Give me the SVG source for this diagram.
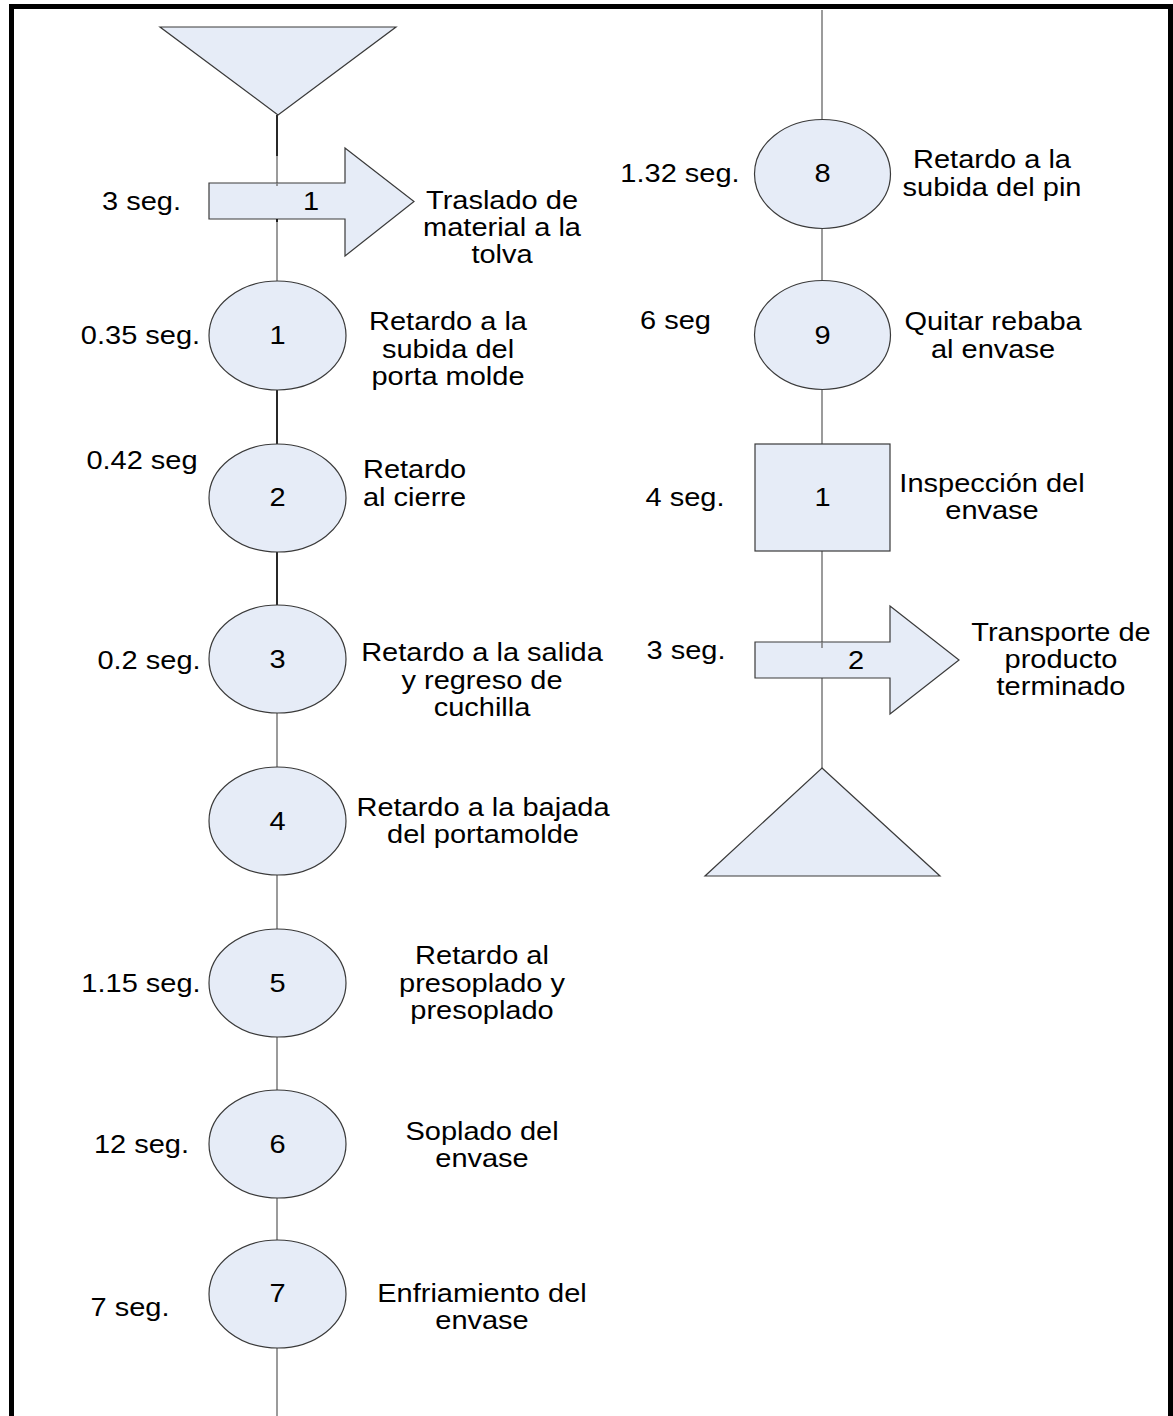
<svg xmlns="http://www.w3.org/2000/svg" width="1173" height="1416" viewBox="0 0 1173 1416">
<style>
.sh{fill:#E6ECF7;stroke:#3a3a3a;stroke-width:1.2}
.t{font-family:"Liberation Sans",Arial,sans-serif;font-size:25px;fill:#000}
.m{text-anchor:middle}
.c{stroke:#7a7a7a;stroke-width:1.5;fill:none}
.cd{stroke:#111;stroke-width:1.8;fill:none}
</style>
<rect width="1173" height="1416" fill="#fff"/>
<path d="M11.5,1416 V6.5 H1170.5 V1416" fill="none" stroke="#000" stroke-width="5"/>
<g id="connectors">
<line class="cd" x1="277" y1="115" x2="277" y2="156"/>
<line class="c" x1="277" y1="156" x2="277" y2="183"/>
<line class="c" x1="277" y1="219" x2="277" y2="281"/>
<line class="cd" x1="277" y1="390" x2="277" y2="444"/>
<line class="cd" x1="277" y1="552" x2="277" y2="605"/>
<line class="c" x1="277" y1="713" x2="277" y2="767"/>
<line class="c" x1="277" y1="875" x2="277" y2="929"/>
<line class="c" x1="277" y1="1037" x2="277" y2="1090"/>
<line class="c" x1="277" y1="1198" x2="277" y2="1240"/>
<line class="c" x1="277" y1="1348" x2="277" y2="1416"/>
<line class="c" x1="822" y1="10" x2="822" y2="119"/>
<line class="c" x1="822" y1="228" x2="822" y2="281"/>
<line class="c" x1="822" y1="389" x2="822" y2="444"/>
<line class="c" x1="822" y1="551" x2="822" y2="642"/>
<line class="c" x1="822" y1="678" x2="822" y2="768"/>
</g>
<g id="start">
<polygon class="sh" points="160,27 396,27 278,115"/>
</g>
<g id="transport1">
<path class="sh" d="M209,183 H345 V148 L414,201.5 L345,256 V219 H209 Z"/>
<line class="c" x1="277" y1="183" x2="277" y2="186"/>
<line class="cd" x1="277" y1="219" x2="277" y2="222"/>
<g transform="translate(311,0) scale(1.16,1)"><text class="t m" x="0" y="210">1</text></g>
<g transform="translate(502,0) scale(1.16,1)"><text class="t m" x="0" y="209">Traslado de</text><text class="t m" x="0" y="236">material a la</text><text class="t m" x="0" y="263">tolva</text></g>
<g transform="translate(141.5,0) scale(1.16,1)"><text class="t m" x="0" y="210">3 seg.</text></g>
</g>
<g id="op1">
<ellipse class="sh" cx="277.5" cy="335.5" rx="68.5" ry="54.5"/>
<g transform="translate(277.5,0) scale(1.16,1)"><text class="t m" x="0" y="344">1</text></g>
<g transform="translate(448,0) scale(1.16,1)"><text class="t m" x="0" y="330">Retardo a la</text><text class="t m" x="0" y="358">subida del</text><text class="t m" x="0" y="385">porta molde</text></g>
<g transform="translate(140.5,0) scale(1.16,1)"><text class="t m" x="0" y="344">0.35 seg.</text></g>
</g>
<g id="op2">
<ellipse class="sh" cx="277.5" cy="498" rx="68.5" ry="54"/>
<g transform="translate(277.5,0) scale(1.16,1)"><text class="t m" x="0" y="506">2</text></g>
<g transform="translate(363,0) scale(1.16,1)"><text class="t" x="0" y="478">Retardo</text><text class="t" x="0" y="506">al cierre</text></g>
<g transform="translate(142,0) scale(1.16,1)"><text class="t m" x="0" y="469">0.42 seg</text></g>
</g>
<g id="op3">
<ellipse class="sh" cx="277.5" cy="659" rx="68.5" ry="54"/>
<g transform="translate(277.5,0) scale(1.16,1)"><text class="t m" x="0" y="668">3</text></g>
<g transform="translate(482,0) scale(1.16,1)"><text class="t m" x="0" y="661">Retardo a la salida</text><text class="t m" x="0" y="689">y regreso de</text><text class="t m" x="0" y="716">cuchilla</text></g>
<g transform="translate(149,0) scale(1.16,1)"><text class="t m" x="0" y="669">0.2 seg.</text></g>
</g>
<g id="op4">
<ellipse class="sh" cx="277.5" cy="821" rx="68.5" ry="54"/>
<g transform="translate(277.5,0) scale(1.16,1)"><text class="t m" x="0" y="830">4</text></g>
<g transform="translate(483,0) scale(1.16,1)"><text class="t m" x="0" y="816">Retardo a la bajada</text><text class="t m" x="0" y="843">del portamolde</text></g>
</g>
<g id="op5">
<ellipse class="sh" cx="277.5" cy="983" rx="68.5" ry="54"/>
<g transform="translate(277.5,0) scale(1.16,1)"><text class="t m" x="0" y="992">5</text></g>
<g transform="translate(482,0) scale(1.16,1)"><text class="t m" x="0" y="964">Retardo al</text><text class="t m" x="0" y="992">presoplado y</text><text class="t m" x="0" y="1019">presoplado</text></g>
<g transform="translate(141,0) scale(1.16,1)"><text class="t m" x="0" y="992">1.15 seg.</text></g>
</g>
<g id="op6">
<ellipse class="sh" cx="277.5" cy="1144" rx="68.5" ry="54"/>
<g transform="translate(277.5,0) scale(1.16,1)"><text class="t m" x="0" y="1153">6</text></g>
<g transform="translate(482,0) scale(1.16,1)"><text class="t m" x="0" y="1140">Soplado del</text><text class="t m" x="0" y="1167">envase</text></g>
<g transform="translate(141.5,0) scale(1.16,1)"><text class="t m" x="0" y="1153">12 seg.</text></g>
</g>
<g id="op7">
<ellipse class="sh" cx="277.5" cy="1294" rx="68.5" ry="54"/>
<g transform="translate(277.5,0) scale(1.16,1)"><text class="t m" x="0" y="1302">7</text></g>
<g transform="translate(482,0) scale(1.16,1)"><text class="t m" x="0" y="1302">Enfriamiento del</text><text class="t m" x="0" y="1329">envase</text></g>
<g transform="translate(130,0) scale(1.16,1)"><text class="t m" x="0" y="1316">7 seg.</text></g>
</g>
<g id="op8">
<ellipse class="sh" cx="822.5" cy="174" rx="68" ry="54.5"/>
<g transform="translate(822.5,0) scale(1.16,1)"><text class="t m" x="0" y="182">8</text></g>
<g transform="translate(992,0) scale(1.16,1)"><text class="t m" x="0" y="168">Retardo a la</text><text class="t m" x="0" y="196">subida del pin</text></g>
<g transform="translate(680,0) scale(1.16,1)"><text class="t m" x="0" y="182">1.32 seg.</text></g>
</g>
<g id="op9">
<ellipse class="sh" cx="822.5" cy="335" rx="68" ry="54.5"/>
<g transform="translate(822.5,0) scale(1.16,1)"><text class="t m" x="0" y="344">9</text></g>
<g transform="translate(993,0) scale(1.16,1)"><text class="t m" x="0" y="330">Quitar rebaba</text><text class="t m" x="0" y="358">al envase</text></g>
<g transform="translate(675.5,0) scale(1.16,1)"><text class="t m" x="0" y="329">6 seg</text></g>
</g>
<g id="inspection1">
<rect class="sh" x="755" y="444" width="135" height="107"/>
<g transform="translate(822.5,0) scale(1.16,1)"><text class="t m" x="0" y="506">1</text></g>
<g transform="translate(992,0) scale(1.16,1)"><text class="t m" x="0" y="492">Inspección del</text><text class="t m" x="0" y="519">envase</text></g>
<g transform="translate(685,0) scale(1.16,1)"><text class="t m" x="0" y="506">4 seg.</text></g>
</g>
<g id="transport2">
<path class="sh" d="M755,642 H890 V606 L959,660 L890,714 V678 H755 Z"/>
<line class="c" x1="822" y1="642" x2="822" y2="648"/>
<g transform="translate(856,0) scale(1.16,1)"><text class="t m" x="0" y="669">2</text></g>
<g transform="translate(1061,0) scale(1.16,1)"><text class="t m" x="0" y="641">Transporte de</text><text class="t m" x="0" y="668">producto</text><text class="t m" x="0" y="695">terminado</text></g>
<g transform="translate(686,0) scale(1.16,1)"><text class="t m" x="0" y="659">3 seg.</text></g>
</g>
<g id="end">
<polygon class="sh" points="822,768 940,876 705,876"/>
</g>
</svg>
